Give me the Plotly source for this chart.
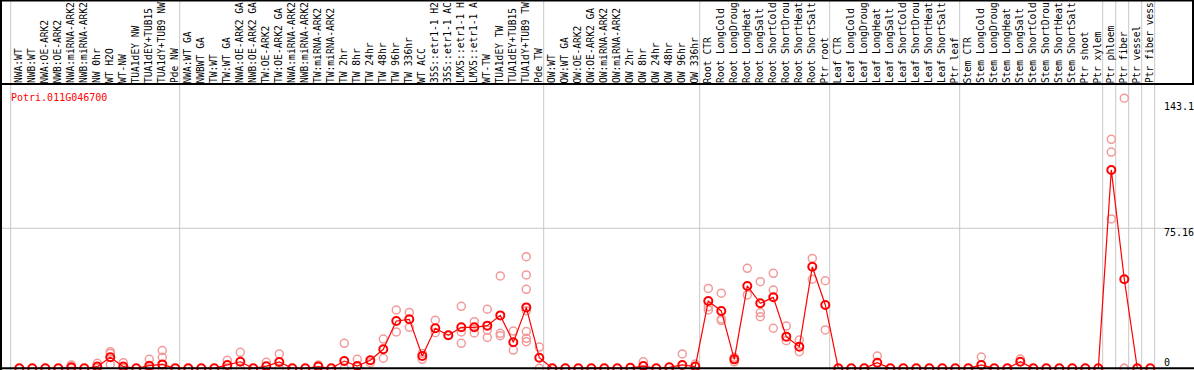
import plotly.graph_objects as go

W, H = 1194, 370

categories = [
    "NWA:WT", "NWB:WT", "NWA:OE-ARK2", "NWB:OE-ARK2", "NWA:miRNA-ARK2", "NWB:miRNA-ARK2",
    "NW 0hr", "WT H2O", "WT-NW", "TUA1dEY NW", "TUA1dEY+TUB15", "TUA1dY+TUB9 NW", "Pde NW",
    "NWA:WT GA", "NWBWT GA", "TW:WT", "TW:WT GA", "NWA:OE-ARK2 GA", "NWB:OE-ARK2 GA",
    "TW:OE-ARK2", "TW:OE-ARK2 GA", "NWA:miRNA-ARK2", "NWB:miRNA-ARK2", "TW:miRNA-ARK2",
    "TW:miRNA-ARK2", "TW 2hr", "TW 8hr", "TW 24hr", "TW 48hr", "TW 96hr", "TW 336hr",
    "WT ACC", "35S::etr1-1 H2", "35S::etr1-1 AC", "LMX5::etr1-1 H", "LMX5::etr1-1 A",
    "WT-TW", "TUA1dEY TW", "TUA1dEY+TUB15", "TUA1dY+TUB9 TW", "Pde TW",
    "OW:WT", "OW:WT GA", "OW:OE-ARK2", "OW:OE-ARK2 GA", "OW:miRNA-ARK2", "OW:miRNA-ARK2",
    "OW 2hr", "OW 8hr", "OW 24hr", "OW 48hr", "OW 96hr", "OW 336hr",
    "Root CTR", "Root LongCold", "Root LongDroug", "Root LongHeat", "Root LongSalt",
    "Root ShortCold", "Root ShortDrou", "Root ShortHeat", "Root ShortSalt", "Ptr root",
    "Leaf CTR", "Leaf LongCold", "Leaf LongDroug", "Leaf LongHeat", "Leaf LongSalt",
    "Leaf ShortCold", "Leaf ShortDrou", "Leaf ShortHeat", "Leaf ShortSalt", "Ptr leaf",
    "Stem CTR", "Stem LongCold", "Stem LongDroug", "Stem LongHeat", "Stem LongSalt",
    "Stem ShortCold", "Stem ShortDrou", "Stem ShortHeat", "Stem ShortSalt", "Ptr shoot",
    "Ptr xylem", "Ptr phloem", "Ptr fiber", "Ptr vessel", "Ptr fiber vess",
]

# number of categories in each separated block
group_sizes = [13, 28, 12, 10, 10, 11, 1, 1, 1, 1]

means = [
    0, 0, 0, 0, 0.5, 0, 0.9, 5.9, 0.9, 0, 1.4, 2.1, 0,
    0, 0, 0, 1.8, 3.5, 0, 1.1, 3.4, 0, 0, 0.9, 0, 3.9, 1.2, 4.3, 10.2, 25.4, 26.3,
    6.6, 21.5, 17.7, 22.0, 22.0, 22.9, 28.4, 14.0, 32.7, 5.7,
    0, 0, 0, 0, 0, 0, 0.3, 1.2, 0, 0.5, 1.8, 0.9,
    36.1, 30.8, 4.8, 44.2, 34.9, 38.1, 17.0, 11.6, 54.5, 34.0,
    0, 0, 0, 3.0, 0, 0, 0, 0, 0, 0,
    0, 1.8, 0, 0, 3.5, 0, 0, 0, 0, 0, 0,
    106.5, 47.8, 0, 0,
]

replicates = {
    4: [1.8, 0], 6: [2.7, 0], 7: [8.9, 8.0, 2.1], 8: [3.0, 0], 10: [4.8, 0],
    11: [9.5, 5.9, 0], 16: [4.3, 0], 17: [8.6, 0], 19: [3.2], 20: [7.7, 0],
    23: [1.8], 25: [13.4, 0], 26: [4.8], 27: [3.0], 28: [15.7, 5.4],
    29: [31.3, 19.5], 30: [30.0, 22.0], 31: [8.0, 4.8], 32: [25.8, 19.1],
    33: [17.7], 34: [33.3, 13.4, 19.5], 35: [25.0, 19.0], 36: [31.7, 16.6, 20.5],
    37: [49.6, 18.8, 17.5], 38: [20.0, 9.8],
    39: [59.9, 50.1, 42.4, 30.9, 19.7, 16.1, 14.3], 40: [11.4, 0],
    48: [3.5], 51: [7.7], 52: [2.3],
    53: [42.9, 33.1, 31.3], 54: [40.3, 26.5, 25.6], 55: [5.9, 3.5],
    56: [53.7, 39.4], 57: [46.5, 29.9, 27.7], 58: [51.0, 42.0, 21.5],
    59: [22.7, 14.8], 60: [15.2, 8.9], 61: [59.0, 47.8], 62: [47.0, 20.6],
    66: [6.6], 74: [6.0], 77: [5.0],
    84: [122.9, 116.1, 80.2], 85: [145.0, 0, 0],
}

gene = "Potri.011G046700"
ytick_vals = [143.1, 75.16, 0]
ytick_text = ["143.1", "75.16", "0"]
grid_vals = [75.16]

# ---------------- layout geometry ----------------
x_first_px, x_step_px = 19.3, 13.0
x0 = -x_first_px / x_step_px
x1 = x0 + W / x_step_px
zero_px, y_scale = 368.3, 1.8627
span = H / y_scale
y0 = -(H - zero_px) / y_scale
y1 = y0 + span
header_px = 84

def py(p):  # pixel-from-top -> paper y
    return 1 - p / H

def px(p):
    return p / W

mono = "DejaVu Sans Mono"
pink = "#f29a9a"
red = "#ff0000"

fig = go.Figure()

rx, ry = [], []
for i, vals in replicates.items():
    for v in vals:
        rx.append(i)
        ry.append(v)
fig.add_trace(go.Scatter(
    x=rx, y=ry, mode="markers",
    marker=dict(symbol="circle-open", size=8, color=pink, line=dict(width=1.5, color=pink)),
    hoverinfo="skip", showlegend=False,
))
fig.add_trace(go.Scatter(
    x=list(range(len(categories))), y=means, mode="lines+markers",
    line=dict(color=red, width=1.2),
    marker=dict(symbol="circle-open", size=8, color=red, line=dict(width=2, color=red)),
    text=categories, showlegend=False,
))

shapes = []
k = 0
bounds = [0]
for g in group_sizes:
    k += g
    bounds.append(k)
for b in bounds:
    shapes.append(dict(type="line", xref="x", yref="paper", x0=b - 0.6615, x1=b - 0.6615,
                       y0=0, y1=1, line=dict(color="#c8c8c8", width=1), layer="below"))
for g in grid_vals:
    shapes.append(dict(type="line", xref="paper", yref="y", x0=0, x1=1, y0=g, y1=g,
                       line=dict(color="#c8c8c8", width=1), layer="below"))
shapes += [
    dict(type="line", xref="paper", yref="paper", x0=0, x1=1, y0=py(header_px), y1=py(header_px),
         line=dict(color="black", width=2)),
    dict(type="line", xref="paper", yref="y", x0=0, x1=1, y0=0, y1=0,
         line=dict(color="black", width=2)),
    dict(type="line", xref="paper", yref="paper", x0=px(1), x1=px(1), y0=0, y1=1,
         line=dict(color="black", width=2)),
    dict(type="line", xref="paper", yref="paper", x0=0, x1=1, y0=py(0.5), y1=py(0.5),
         line=dict(color="black", width=2)),
    dict(type="line", xref="paper", yref="paper", x0=px(1193), x1=px(1193), y0=py(0), y1=py(header_px),
         line=dict(color="black", width=2)),
]

annotations = []
for i, c in enumerate(categories):
    annotations.append(dict(
        x=i - 0.1, xref="x", y=py(83.5), yref="paper", text=c, showarrow=False,
        textangle=-90, xanchor="center", yanchor="bottom", borderpad=0, borderwidth=0,
        font=dict(family=mono, size=9.6, color="black"),
    ))
annotations.append(dict(
    x=px(10), xref="paper", y=py(97), yref="paper", text=gene, showarrow=False,
    xanchor="left", yanchor="middle", borderpad=0, font=dict(family=mono, size=10, color=red),
))
yshifts = [-5, -4, 6]
for v, t, s in zip(ytick_vals, ytick_text, yshifts):
    annotations.append(dict(
        x=px(1163), xref="paper", y=v, yref="y", yshift=s, text=t, showarrow=False,
        xanchor="left", yanchor="middle", borderpad=0, font=dict(family=mono, size=10, color="black"),
    ))

fig.update_layout(
    width=W, height=H, margin=dict(l=0, r=0, t=0, b=0),
    paper_bgcolor="white", plot_bgcolor="white",
    xaxis=dict(range=[x0, x1], visible=False, fixedrange=True),
    yaxis=dict(range=[y0, y1], visible=False, fixedrange=True),
    shapes=shapes, annotations=annotations, showlegend=False,
)
fig.write_html(
    "out.html",
    config={"displayModeBar": False},
    post_script="document.body.style.margin='0';document.body.style.overflow='hidden';",
)
